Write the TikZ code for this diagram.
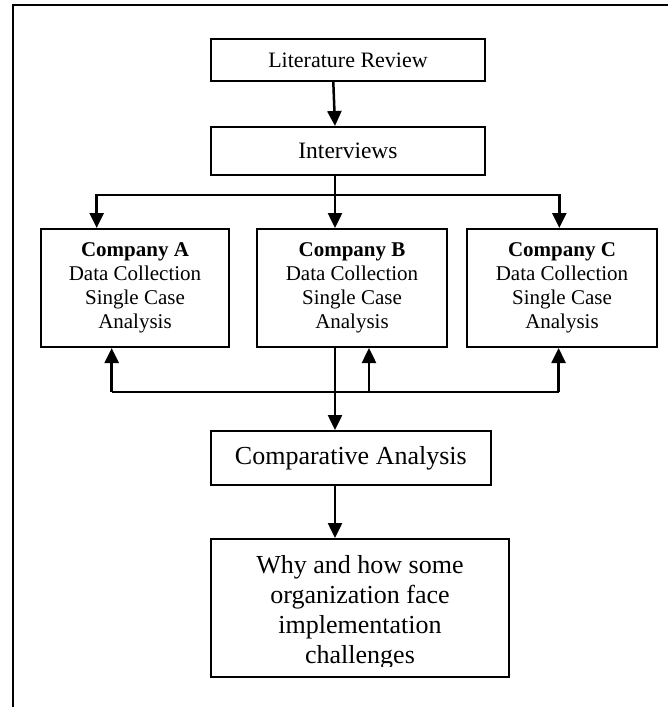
\documentclass[tikz,border=0pt]{standalone}
\usepackage{fontspec}
\setmainfont{Liberation Serif}
\usetikzlibrary{arrows.meta}
\tikzset{
  box/.style={draw, line width=2pt, inner sep=0pt, align=center},
  conn/.style={line width=2.5pt},
  arr/.style={line width=2.5pt, -{Triangle[width=14pt,length=15pt]}},
  frameline/.style={line width=2pt},
}
\begin{document}
\begin{tikzpicture}[x=1pt,y=-1pt]
\useasboundingbox (0,0) rectangle (668,707);
\draw[frameline] (12.7,707) -- (12.7,5) -- (668,5);

\node[box, minimum width=274.3pt, minimum height=42pt, font=\fontsize{22}{26}\selectfont] (lit) at (348,60) {Literature Review};
\node[box, minimum width=274.3pt, minimum height=48pt, font=\fontsize{23.5}{27}\selectfont] (int) at (348,151) {Interviews};

\node[box, minimum width=188.6pt, minimum height=118pt, font=\fontsize{21}{24}\selectfont] (a) at (135,288) {\textbf{Company A}\\Data Collection\\Single Case\\Analysis};
\node[box, minimum width=190.6pt, minimum height=118pt, font=\fontsize{21}{24}\selectfont] (b) at (352,288) {\textbf{Company B}\\Data Collection\\Single Case\\Analysis};
\node[box, minimum width=190pt, minimum height=118pt, font=\fontsize{21}{24}\selectfont] (c) at (562,288) {\textbf{Company C}\\Data Collection\\Single Case\\Analysis};

\node[box, minimum width=280.3pt, minimum height=54pt, font=\fontsize{26}{30}\selectfont] (cmp) at (350.85,458) {Comparative Analysis};
\node[box, minimum width=298.3pt, minimum height=138pt] (fin) at (359.85,608) {};
\begin{scope}
\clip (0,0) rectangle (668,666);
\node[align=center, inner sep=0pt, font=\fontsize{26}{30}\selectfont] (fintext) at (360,612) {Why and how some\\organization face\\implementation\\challenges};
\end{scope}

% top flow
\draw[arr] ([xshift=-14.7pt]lit.south) -- ([xshift=-13pt]int.north);
\coordinate (split) at (335,195);
\draw[conn] ([xshift=-13pt]int.south) -- (split);
\draw[arr] (split) -- ([xshift=-17pt]b.north);
\draw[arr] (split) -| ([xshift=-38.3pt]a.north);
\draw[arr] (split) -| ([xshift=-2.7pt]c.north);

% feedback
\coordinate (fbl) at (111.7,392);
\coordinate (fbr) at (558.6,392);
\coordinate (fbm) at (369,392);
\draw[conn] (fbl) -- (fbr);
\draw[arr] (fbl) -- (fbl |- a.south);
\draw[arr] (fbr) -- (fbr |- c.south);
\draw[arr] (fbm) -- (fbm |- b.south);

% down to comparative
\draw[arr] ([xshift=-17pt]b.south) -- ([xshift=-17pt]b.south |- cmp.north);
\draw[arr] ([xshift=-15.85pt]cmp.south) -- ([xshift=-15.85pt]cmp.south |- fin.north);
\end{tikzpicture}
\end{document}
